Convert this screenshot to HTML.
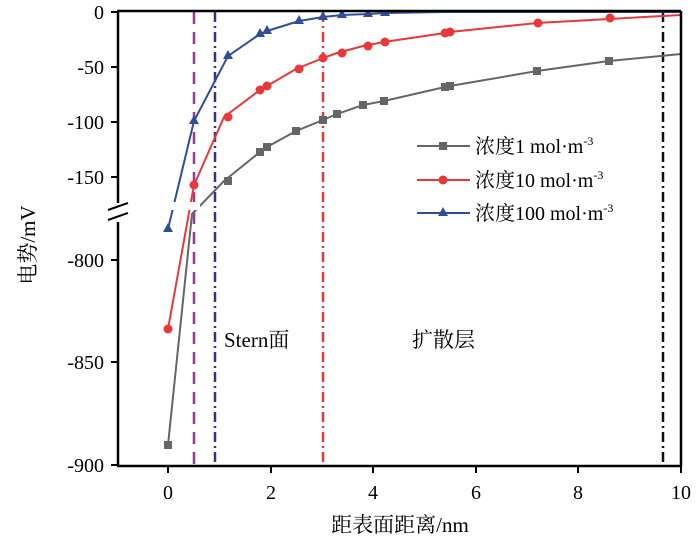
<!DOCTYPE html>
<html><head><meta charset="utf-8"><style>
html,body{margin:0;padding:0;background:#fff;}
svg{display:block;font-family:"Liberation Serif","Noto Serif CJK SC",serif;}
</style></head><body>
<svg width="700" height="546" viewBox="0 0 700 546" xmlns="http://www.w3.org/2000/svg">
<rect width="700" height="546" fill="#fff"/>
<line x1="194" y1="12" x2="194" y2="465" stroke="#9b3a8c" stroke-width="2.5" stroke-dasharray="12,8"/>
<line x1="215" y1="12" x2="215" y2="465" stroke="#3b2f8a" stroke-width="2.5" stroke-dasharray="10,4,2,4"/>
<line x1="323" y1="12" x2="323" y2="465" stroke="#e03a3a" stroke-width="2.5" stroke-dasharray="10,4,2,4"/>
<line x1="663" y1="12" x2="663" y2="465" stroke="#111" stroke-width="2.5" stroke-dasharray="10,4,2,4"/>
<g stroke="#666" stroke-width="2" fill="#666">
<polyline fill="none" points="168,445 192,214 224,181 260,152 267,147 296,131 323,120 337,114 363,105 384,101 445,87 450,86 537,71 609,61 681,54"/>
<g stroke="none">
<rect x="164" y="441" width="8" height="8"/><rect x="224" y="177" width="8" height="8"/><rect x="256" y="148" width="8" height="8"/><rect x="263" y="143" width="8" height="8"/><rect x="292" y="127" width="8" height="8"/><rect x="319" y="116" width="8" height="8"/><rect x="333" y="110" width="8" height="8"/><rect x="359" y="101" width="8" height="8"/><rect x="380" y="97" width="8" height="8"/><rect x="441" y="83" width="8" height="8"/><rect x="446" y="82" width="8" height="8"/><rect x="533" y="67" width="8" height="8"/><rect x="605" y="57" width="8" height="8"/></g>
</g>
<g stroke="#e8383a" stroke-width="2" fill="#e8383a">
<polyline fill="none" points="168,329 194,185 224,117 260,90 267,86 296,69 323,58 337,53 363,46 384,42 445,33 450,32 537,23 609,19 681,15"/>
<g stroke="none">
<circle cx="168" cy="329" r="4.5"/><circle cx="194" cy="185" r="4.5"/><circle cx="228" cy="117" r="4.5"/><circle cx="260" cy="90" r="4.5"/><circle cx="267" cy="86" r="4.5"/><circle cx="299" cy="69" r="4.5"/><circle cx="323" cy="58" r="4.5"/><circle cx="342" cy="53" r="4.5"/><circle cx="368" cy="46" r="4.5"/><circle cx="385" cy="42" r="4.5"/><circle cx="445" cy="33" r="4.5"/><circle cx="450" cy="32" r="4.5"/><circle cx="538" cy="23" r="4.5"/><circle cx="610" cy="18" r="4.5"/></g>
</g>
<g stroke="#2f4e9a" stroke-width="2" fill="#2f4e9a">
<polyline fill="none" points="168,229 194,121 228,56 260,34 267,31 299,21 323,17 342,15 368,14 385,13 445,12 681,12"/>
<g stroke="none">
<path d="M168,223 l5,9 h-10z"/><path d="M194,115 l5,9 h-10z"/><path d="M228,50 l5,9 h-10z"/><path d="M260,28 l5,9 h-10z"/><path d="M267,25 l5,9 h-10z"/><path d="M299,15 l5,9 h-10z"/><path d="M323,11 l5,9 h-10z"/><path d="M342,9 l5,9 h-10z"/><path d="M368,8 l5,9 h-10z"/><path d="M385,7 l5,9 h-10z"/></g>
</g>
<rect x="160" y="202" width="40" height="8" fill="#fff"/>
<rect x="0" y="0" width="700" height="11" fill="#fff"/>
<line x1="117" y1="11" x2="681" y2="11" stroke="#000" stroke-width="2.5"/>
<line x1="681" y1="11" x2="681" y2="466" stroke="#000" stroke-width="2.5"/>
<line x1="117" y1="466" x2="682" y2="466" stroke="#000" stroke-width="2.5"/>
<line x1="118" y1="11" x2="118" y2="203" stroke="#000" stroke-width="2.5"/>
<line x1="118" y1="222" x2="118" y2="466" stroke="#000" stroke-width="2.5"/>
<line x1="108" y1="210" x2="128" y2="203" stroke="#000" stroke-width="2"/>
<line x1="108" y1="220" x2="128" y2="213" stroke="#000" stroke-width="2"/>
<g stroke="#000" stroke-width="2">
<line x1="111" y1="12" x2="118" y2="12"/><line x1="111" y1="67" x2="118" y2="67"/><line x1="111" y1="122" x2="118" y2="122"/><line x1="111" y1="177" x2="118" y2="177"/>
<line x1="111" y1="260" x2="118" y2="260"/><line x1="111" y1="362" x2="118" y2="362"/><line x1="111" y1="465" x2="118" y2="465"/>
<line x1="168" y1="466" x2="168" y2="473"/><line x1="271" y1="466" x2="271" y2="473"/><line x1="373" y1="466" x2="373" y2="473"/><line x1="476" y1="466" x2="476" y2="473"/><line x1="578" y1="466" x2="578" y2="473"/><line x1="681" y1="466" x2="681" y2="473"/>
</g>
<g font-size="20" fill="#000" text-anchor="end">
<text x="104" y="19">0</text><text x="104" y="74">-50</text><text x="104" y="129">-100</text><text x="104" y="184">-150</text>
<text x="104" y="267">-800</text><text x="104" y="369">-850</text><text x="104" y="472">-900</text>
</g>
<g font-size="20" fill="#000" text-anchor="middle">
<text x="168" y="499">0</text><text x="271" y="499">2</text><text x="373" y="499">4</text><text x="476" y="499">6</text><text x="578" y="499">8</text><text x="681" y="499">10</text>
</g>
<text x="400" y="532" font-size="21" text-anchor="middle">距表面距离/nm</text>
<text transform="translate(35,245) rotate(-90)" font-size="21" text-anchor="middle">电势/mV</text>
<text x="224" y="347" font-size="21">Stern面</text>
<text x="412" y="347" font-size="21">扩散层</text>
<line x1="417" y1="146" x2="470" y2="146" stroke="#666" stroke-width="2"/><rect x="439" y="142" width="8" height="8" fill="#666"/>
<line x1="417" y1="180" x2="470" y2="180" stroke="#e8383a" stroke-width="2"/><circle cx="443" cy="180" r="4.5" fill="#e8383a"/>
<line x1="417" y1="213" x2="470" y2="213" stroke="#2f4e9a" stroke-width="2"/><path d="M443,207 l5,9 h-10z" fill="#2f4e9a"/>
<g font-size="20" fill="#000">
<text x="475" y="153">浓度1 mol·m<tspan font-size="12" dy="-8">-3</tspan></text>
<text x="475" y="187">浓度10 mol·m<tspan font-size="12" dy="-8">-3</tspan></text>
<text x="475" y="220">浓度100 mol·m<tspan font-size="12" dy="-8">-3</tspan></text>
</g>
</svg>
</body></html>
